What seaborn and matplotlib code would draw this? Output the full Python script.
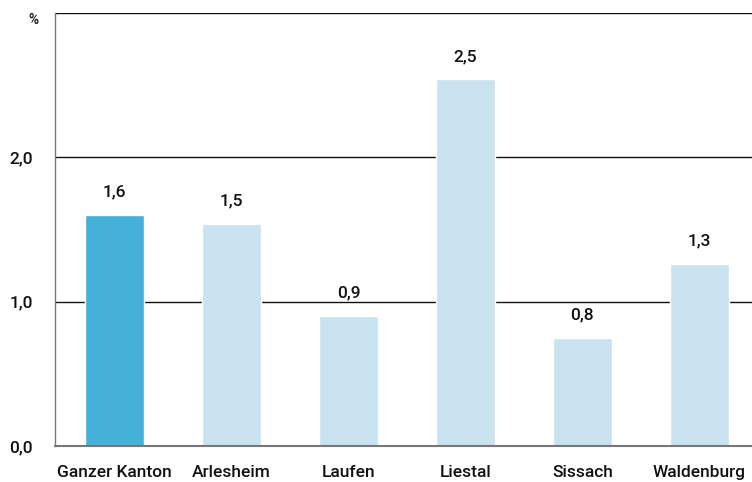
import matplotlib
matplotlib.use("Agg")
import matplotlib.pyplot as plt
import seaborn as sns
import pandas as pd
from matplotlib import font_manager

categories = ["Ganzer Kanton", "Arlesheim", "Laufen", "Liestal", "Sissach", "Waldenburg"]
values = [1.6, 1.54, 0.9, 2.54, 0.75, 1.26]
labels = ["1,6", "1,5", "0,9", "2,5", "0,8", "1,3"]
yticks = [0, 1, 2]
ytick_labels = ["0,0", "1,0", "2,0"]

sns.set_theme(style="white")
avail = {f.name for f in font_manager.fontManager.ttflist}
fam = "Liberation Sans Narrow" if "Liberation Sans Narrow" in avail else "Roboto"
plt.rcParams["font.family"] = [fam, "DejaVu Sans"]
plt.rcParams["font.weight"] = 500

df = pd.DataFrame({"cat": categories, "val": values})
palette = ["#45B0D8"] + ["#C9E2F0"] * 5

fig = plt.figure(figsize=(7.52, 4.82), dpi=100)
ax = fig.add_axes([55/752, 36/482, 1 - 55/752, (446-13)/482])
sns.barplot(data=df, x="cat", y="val", hue="cat", palette=palette, legend=False,
            width=0.504, ax=ax, saturation=1)
ax.set_xlim(-0.51, 5.45)
ax.set_ylim(0, 3.0)
ax.set_yticks(yticks)
ax.set_yticklabels(ytick_labels)
for y in [1, 2, 3]:
    ax.axhline(y, color="#111111", lw=1.0, zorder=0)
for s in ["top", "right"]:
    ax.spines[s].set_visible(False)
ax.spines["left"].set_color("#777777")
ax.spines["bottom"].set_color("#777777")
ax.spines["left"].set_linewidth(1.0)
ax.spines["bottom"].set_linewidth(1.5)
ax.set_xlabel("")
ax.set_ylabel("")
ax.tick_params(axis="y", length=0, pad=16, labelsize=12.5, colors="#111111")
ax.tick_params(axis="x", length=0, pad=14, labelsize=12.5, colors="#111111")
for i, (v, l) in enumerate(zip(values, labels)):
    ax.annotate(l, (i, v), xytext=(0, 11), textcoords="offset points",
                ha="center", va="bottom", fontsize=12.5, color="#111111")
fig.text(33/752, 1 - 20/482, "%", ha="center", va="center", fontsize=10, color="#111111")
fig.savefig("out.png", dpi=100)
